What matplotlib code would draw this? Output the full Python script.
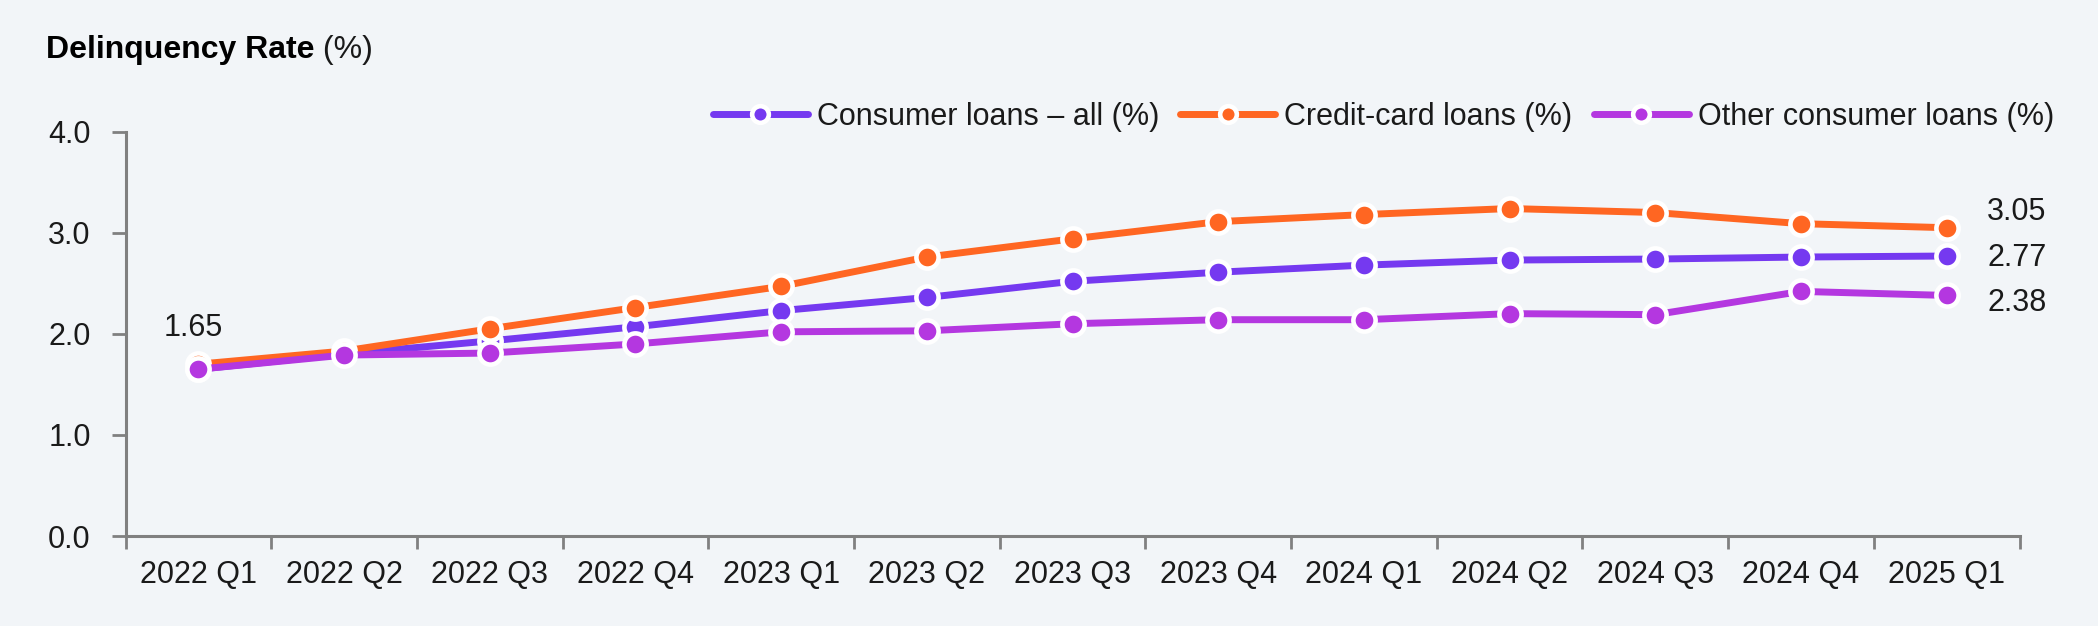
import matplotlib
matplotlib.use("Agg")
import matplotlib.pyplot as plt
from matplotlib.ticker import FixedLocator, NullFormatter, FixedFormatter

plt.rcParams['font.family'] = ['Liberation Sans', 'DejaVu Sans']

quarters = ["2022 Q1", "2022 Q2", "2022 Q3", "2022 Q4", "2023 Q1", "2023 Q2", "2023 Q3",
            "2023 Q4", "2024 Q1", "2024 Q2", "2024 Q3", "2024 Q4", "2025 Q1"]
consumer_all = [1.65, 1.80, 1.93, 2.07, 2.23, 2.36, 2.52, 2.61, 2.68, 2.73, 2.74, 2.76, 2.77]
credit_card = [1.70, 1.83, 2.05, 2.26, 2.47, 2.76, 2.94, 3.11, 3.18, 3.24, 3.20, 3.09, 3.05]
other_consumer = [1.65, 1.79, 1.81, 1.90, 2.02, 2.03, 2.10, 2.14, 2.14, 2.20, 2.19, 2.42, 2.38]
series_names = ["Consumer loans \u2013 all (%)", "Credit-card loans (%)", "Other consumer loans (%)"]
colors = ["#7539F0", "#FF6622", "#B437E0"]
yticks = [0.0, 1.0, 2.0, 3.0, 4.0]

BG = "#F2F5F8"
AX = "#808080"
TXT = "#1a1a1a"
FS = 22

fig = plt.figure(figsize=(20.98, 6.26), dpi=100, facecolor=BG)
ax = fig.add_axes([125.5/2098, 1-536/626, (2019.6-125.5)/2098, (536-131.7)/626])
ax.set_facecolor(BG)

x = list(range(len(quarters)))
handles = []
for name, vals, c in zip(series_names, [consumer_all, credit_card, other_consumer], colors):
    h, = ax.plot(x, vals, color=c, lw=5, marker='o', markersize=16, markerfacecolor=c,
                 markeredgecolor='white', markeredgewidth=3.3, label=name, solid_capstyle='round',
                 clip_on=False)
    handles.append(h)

ax.set_xlim(-0.5, len(quarters) - 0.5)
ax.set_ylim(0, 4)

# x ticks: band edges as ticks, labels at band centers
ax.xaxis.set_major_locator(FixedLocator([i - 0.5 for i in range(len(quarters) + 1)]))
ax.xaxis.set_major_formatter(NullFormatter())
ax.xaxis.set_minor_locator(FixedLocator(x))
ax.xaxis.set_minor_formatter(FixedFormatter(quarters))
ax.tick_params(axis='x', which='major', length=9, width=2, color=AX)
ax.tick_params(axis='x', which='minor', length=0, pad=17, labelsize=FS, labelcolor=TXT)

ax.set_yticks(yticks)
ax.set_yticklabels([f"{v:.1f}" for v in yticks])
ax.tick_params(axis='y', length=10, width=2, color=AX, pad=15, labelsize=FS, labelcolor=TXT)

for s in ['top', 'right']:
    ax.spines[s].set_visible(False)
for s in ['left', 'bottom']:
    ax.spines[s].set_color(AX)
    ax.spines[s].set_linewidth(2.2)

# end labels
last = len(quarters) - 1
for vals, dy in zip([consumer_all, credit_card, other_consumer], [-1.5, 11.5, -5.5]):
    ax.annotate(f"{vals[-1]:.2f}", xy=(last, vals[-1]), xytext=(29, dy), textcoords='offset points',
                ha='left', va='center', fontsize=FS, color=TXT, annotation_clip=False)

# first label
ax.annotate(f"{other_consumer[0]:.2f}", xy=(0, other_consumer[0]), xytext=(-4, 30),
            textcoords='offset points', ha='center', va='center', fontsize=FS, color=TXT)

# title
title_y = 1 - 58/626
fig.text(46/2098, title_y, "Delinquency Rate", fontsize=23, fontweight='bold', color='black',
         ha='left', va='baseline')
fig.canvas.draw()
r = fig.canvas.get_renderer()
bb = fig.texts[0].get_window_extent(renderer=r)
fig.text(bb.x1/2098, title_y, " (%)", fontsize=23, color=TXT, ha='left', va='baseline')

leg = fig.legend(handles=handles, loc='center right', bbox_to_anchor=(2054/2098, 1-117/626),
                 ncol=3, frameon=False, fontsize=FS, handlelength=3.1, handletextpad=0.3,
                 columnspacing=0.7, markerscale=0.75, borderaxespad=0, borderpad=0)
for txt in leg.get_texts():
    txt.set_color(TXT)

fig.savefig("out.png", dpi=100, facecolor=BG)
